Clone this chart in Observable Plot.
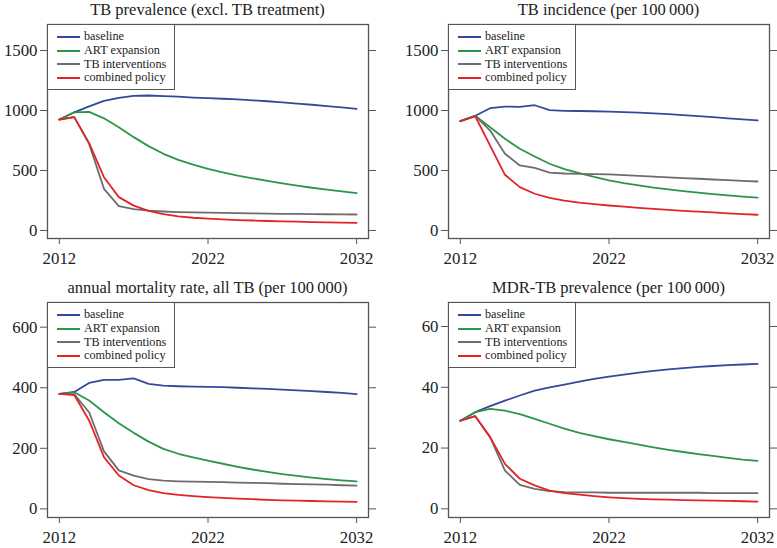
<!DOCTYPE html>
<html>
<head>
<meta charset="utf-8">
<script src="https://cdn.jsdelivr.net/npm/d3@7"></script>
<script src="https://cdn.jsdelivr.net/npm/@observablehq/plot@0.6"></script>
<style>
  body { margin: 0; background: #fff; }
  #chart { position: relative; width: 777px; height: 548px; background: #fff; font-family: "Liberation Serif", "DejaVu Serif", serif; color: #222; overflow: hidden; }
  .panel { position: absolute; }
  .panel svg { display: block; }
  .panel svg text { font-family: "Liberation Serif", serif !important; }
  .title { position: absolute; font-size: 16.5px; line-height: 20px; white-space: nowrap; transform: translateX(-50%); color: #222; }
  .legend { position: absolute; box-sizing: border-box; border: 1.3px solid #555; background: #fff; padding: 5px 0 0 9px; }
  .legend .row { display: flex; align-items: center; height: 13.8px; font-size: 12.2px; line-height: 13.8px; white-space: nowrap; }
  .legend .sw { display: inline-block; width: 23px; height: 2px; margin-right: 4px; flex: none; }
</style>
</head>
<body>
<div id="chart"></div>
<script>
// ---- data ----
const years = [2012, 2013, 2014, 2015, 2016, 2017, 2018, 2019, 2020, 2021, 2022, 2023, 2024, 2025, 2026, 2027, 2028, 2029, 2030, 2031, 2032];
const scenarios = ["baseline", "ART expansion", "TB interventions", "combined policy"];
const scenarioColors = ["#34499a", "#2c9646", "#6d6d6d", "#e1242a"];
const xTicks = [2012, 2022, 2032];

const titles = [
  "TB prevalence (excl. TB treatment)",
  "TB incidence (per 100\u2009000)",
  "annual mortality rate, all TB (per 100\u2009000)",
  "MDR-TB prevalence (per 100\u2009000)"
];

// TB prevalence
const prevBaseline = [925, 985, 1035, 1080, 1105, 1122, 1125, 1120, 1115, 1108, 1103, 1098, 1092, 1085, 1077, 1068, 1058, 1048, 1037, 1026, 1014];
const prevART      = [925, 985, 988, 935, 861, 778, 703, 639, 588, 548, 514, 484, 458, 435, 414, 393, 374, 356, 340, 325, 311];
const prevTB       = [925, 945, 722, 347, 203, 178, 165, 158, 153, 150, 148, 146, 144, 142, 141, 139, 138, 137, 135, 134, 133];
const prevCombined = [925, 945, 728, 444, 278, 207, 163, 136, 118, 106, 98, 92, 87, 83, 79, 76, 73, 70, 68, 66, 64];
const prevTicks = [0, 500, 1000, 1500];

// TB incidence
const incBaseline = [911, 956, 1019, 1033, 1030, 1044, 1003, 997, 996, 994, 991, 987, 982, 976, 969, 961, 953, 944, 935, 926, 917];
const incART      = [911, 956, 861, 764, 681, 617, 556, 512, 478, 446, 418, 395, 375, 357, 342, 328, 315, 303, 292, 282, 273];
const incTB       = [911, 956, 833, 639, 542, 522, 483, 475, 472, 470, 467, 461, 455, 449, 443, 437, 431, 425, 419, 413, 408];
const incCombined = [911, 952, 708, 464, 361, 306, 272, 248, 232, 220, 208, 198, 189, 180, 172, 164, 157, 150, 143, 137, 131];
const incTicks = [0, 500, 1000, 1500];

// annual mortality
const mortBaseline = [380, 386, 416, 426, 426, 431, 413, 407, 405, 404, 403, 402, 400, 398, 396, 394, 391, 389, 386, 383, 379];
const mortART      = [380, 385, 358, 319, 283, 251, 222, 198, 182, 170, 159, 149, 139, 130, 122, 115, 109, 103, 98, 94, 91];
const mortTB       = [380, 378, 319, 190, 127, 110, 98, 93, 91, 90, 89, 88, 87, 86, 85, 83, 82, 81, 80, 78, 77];
const mortCombined = [380, 376, 292, 171, 110, 78, 62, 52, 46, 42, 39, 36, 34, 32, 30, 28, 27, 26, 25, 24, 23];
const mortTicks = [0, 200, 400, 600];

// MDR-TB prevalence
const mdrBaseline = [29.0, 31.8, 33.8, 35.6, 37.3, 38.9, 40.0, 40.9, 41.9, 42.8, 43.5, 44.2, 44.8, 45.4, 45.9, 46.3, 46.7, 47.0, 47.3, 47.5, 47.7];
const mdrART      = [29.0, 31.8, 32.9, 32.3, 31.2, 29.6, 28.0, 26.4, 25.0, 23.9, 22.9, 22.0, 21.1, 20.2, 19.4, 18.7, 18.0, 17.4, 16.8, 16.2, 15.8];
const mdrTB       = [29.0, 30.5, 23.6, 12.6, 7.9, 6.6, 5.8, 5.5, 5.4, 5.4, 5.3, 5.3, 5.3, 5.3, 5.3, 5.3, 5.3, 5.2, 5.2, 5.2, 5.2];
const mdrCombined = [29.0, 30.5, 23.6, 14.8, 9.9, 7.7, 6.0, 5.2, 4.7, 4.2, 3.8, 3.5, 3.3, 3.1, 3.0, 2.9, 2.8, 2.7, 2.6, 2.5, 2.4];
const mdrTicks = [0, 20, 40, 60];

// ---- layout ----
const panels = [
  {title: titles[0], series: [prevBaseline, prevART, prevTB, prevCombined], ticks: prevTicks, yDomain: [-67, 1717],
   left: 0, top: 0, width: 388, height: 270, mL: 47, mR: 20, mT: 24, mB: 32, titleY: 0},
  {title: titles[1], series: [incBaseline, incART, incTB, incCombined], ticks: incTicks, yDomain: [-67, 1717],
   left: 401, top: 0, width: 376, height: 270, mL: 47, mR: 8, mT: 24, mB: 32, titleY: 0},
  {title: titles[2], series: [mortBaseline, mortART, mortTB, mortCombined], ticks: mortTicks, yDomain: [-28.5, 681.5],
   left: 0, top: 270, width: 388, height: 278, mL: 47, mR: 20, mT: 32, mB: 31, titleY: 8},
  {title: titles[3], series: [mdrBaseline, mdrART, mdrTB, mdrCombined], ticks: mdrTicks, yDomain: [-2.85, 67.9],
   left: 401, top: 270, width: 376, height: 278, mL: 47, mR: 8, mT: 32, mB: 31, titleY: 8}
];

const chart = document.getElementById("chart");

for (const p of panels) {
  const rows = [];
  p.series.forEach((vals, si) => {
    vals.forEach((v, i) => rows.push({year: years[i], value: v, scenario: scenarios[si]}));
  });

  const svg = Plot.plot({
    width: p.width,
    height: p.height,
    marginLeft: p.mL,
    marginRight: p.mR,
    marginTop: p.mT,
    marginBottom: p.mB,
    style: {fontFamily: "'Liberation Serif', serif", fontSize: "16.8px", color: "#222", background: "transparent", overflow: "visible"},
    x: {domain: [2011.2, 2032.8]},
    y: {domain: p.yDomain},
    color: {domain: scenarios, range: scenarioColors},
    marks: [
      Plot.axisX({ticks: xTicks, tickFormat: d => String(d), tickSize: 6, tickPadding: 8, stroke: "#555", fill: "#222", label: null}),
      Plot.axisY({ticks: p.ticks, tickFormat: d => String(d), tickSize: 7, tickPadding: 3, stroke: "#555", fill: "#222", label: null}),
      Plot.axisY({anchor: "right", ticks: p.ticks, tickSize: 7, tickFormat: () => "", stroke: "#555", label: null}),
      Plot.line(rows, {x: "year", y: "value", z: "scenario", stroke: "scenario", strokeWidth: 1.8, curve: "linear"}),
      Plot.frame({stroke: "#555", strokeWidth: 1.3})
    ]
  });

  const div = document.createElement("div");
  div.className = "panel";
  div.style.left = p.left + "px";
  div.style.top = p.top + "px";
  div.style.width = p.width + "px";
  div.style.height = p.height + "px";
  div.appendChild(svg);

  const plotW = p.width - p.mL - p.mR;
  const t = document.createElement("div");
  t.className = "title";
  t.textContent = p.title;
  t.style.left = (p.mL + plotW / 2) + "px";
  t.style.top = p.titleY + "px";
  div.appendChild(t);

  const lg = document.createElement("div");
  lg.className = "legend";
  lg.style.left = p.mL + "px";
  lg.style.top = p.mT + "px";
  lg.style.width = "128px";
  lg.style.height = "66px";
  scenarios.forEach((s, i) => {
    const r = document.createElement("div");
    r.className = "row";
    const sw = document.createElement("span");
    sw.className = "sw";
    sw.style.background = scenarioColors[i];
    const tx = document.createElement("span");
    tx.textContent = s;
    r.appendChild(sw);
    r.appendChild(tx);
    lg.appendChild(r);
  });
  div.appendChild(lg);

  chart.appendChild(div);
}
</script>
</body>
</html>
